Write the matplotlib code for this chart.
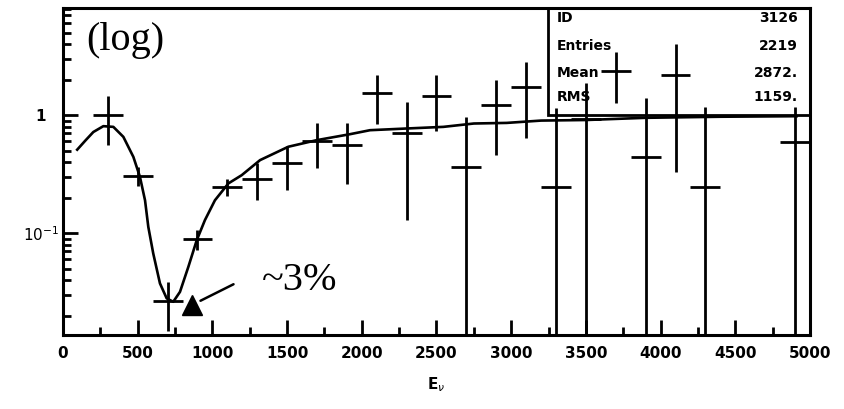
import matplotlib
matplotlib.use("Agg")
import matplotlib.pyplot as plt
from matplotlib.ticker import FixedLocator, FixedFormatter, LogLocator, NullFormatter, MultipleLocator
from matplotlib.patches import Rectangle

# ---- data ----
bin_centers = [300, 500, 700, 900, 1100, 1300, 1500, 1700, 1900, 2100, 2300,
               2500, 2700, 2900, 3100, 3300, 3500, 3700, 3900, 4100, 4300, 4900]
bin_values = [1.0, 0.306, 0.0267, 0.089, 0.247, 0.29, 0.39, 0.61, 0.56, 1.53, 0.71,
              1.45, 0.365, 1.22, 1.74, 0.244, 0.92, 2.36, 0.438, 2.18, 0.245, 0.594]
bin_errors = [0.44, 0.055, 0.012, 0.017, 0.04, 0.1, 0.16, 0.25, 0.3, 0.68, 0.58,
              0.72, 0.6, 0.76, 1.1, 0.9, 0.95, 1.1, 0.95, 1.85, 0.93, 0.59]
half_bin = 100

fit_x = [95, 150, 203, 270, 337, 404, 471, 515, 549, 571, 604, 649, 694, 738, 783,
         839, 895, 950, 1017, 1107, 1196, 1319, 1508, 1698, 1921, 2055, 2300, 2546,
         2750, 2970, 3200, 3500, 3900, 4400, 4910]
fit_y = [0.51, 0.61, 0.72, 0.807, 0.796, 0.655, 0.443, 0.30, 0.19, 0.113, 0.0673,
         0.0375, 0.028, 0.0262, 0.0318, 0.0518, 0.087, 0.129, 0.19, 0.264, 0.31,
         0.416, 0.54, 0.614, 0.69, 0.746, 0.771, 0.796, 0.85, 0.86, 0.9, 0.91,
         0.95, 0.97, 0.98]

x_ticks = [0, 500, 1000, 1500, 2000, 2500, 3000, 3500, 4000, 4500, 5000]
x_ticklabels = ["0", "500", "1000", "1500", "2000", "2500", "3000", "3500", "4000", "4500", "5000"]
y_ticks = [0.1, 1]
y_ticklabels = [r"$10^{-1}$", "1"]

stat_names = ["ID", "Entries", "Mean", "RMS"]
stat_values = ["3126", "2219", "2872.", "1159."]

W, H = 845, 409
fig = plt.figure(figsize=(W / 100, H / 100), dpi=100)
ax = fig.add_axes([63 / W, (H - 335) / H, (810 - 63) / W, (335 - 8) / H])

ax.set_yscale("log")
ax.set_xlim(0, 5000)
ax.set_ylim(0.0137, 8.1)

# fit curve
ax.plot(fit_x, fit_y, color="black", lw=1.9, solid_joinstyle="round", zorder=3)

# data crosses
ax.errorbar(bin_centers, bin_values, xerr=half_bin, yerr=bin_errors,
            fmt="none", ecolor="black", elinewidth=2.0, capsize=0, zorder=4)

# axes style
for s in ax.spines.values():
    s.set_linewidth(2.2)

ax.xaxis.set_major_locator(FixedLocator(x_ticks))
ax.xaxis.set_major_formatter(FixedFormatter(x_ticklabels))
ax.xaxis.set_minor_locator(MultipleLocator(250))
ax.yaxis.set_major_locator(FixedLocator(y_ticks))
ax.yaxis.set_major_formatter(FixedFormatter(y_ticklabels))
ax.yaxis.set_minor_locator(LogLocator(base=10, subs=range(2, 10), numticks=20))
ax.yaxis.set_minor_formatter(NullFormatter())

ax.tick_params(axis="both", which="major", direction="in", length=11, width=2.0)
ax.tick_params(axis="both", which="minor", direction="in", length=6, width=2.0)
ax.tick_params(axis="x", which="major", pad=8)
ax.tick_params(axis="y", which="major", pad=16)
for lab in ax.get_xticklabels():
    lab.set_fontsize(11)
    lab.set_fontweight("bold")
for lab in ax.get_yticklabels():
    lab.set_fontsize(11)
    lab.set_fontweight("bold")
    lab.set_horizontalalignment("center")

ax.set_xlabel(r"E$_{\nu}$", fontsize=11, fontweight="bold", labelpad=10)

# statistics box
bx0 = (548 - 63) / (810 - 63)
by0 = (335 - 115) / (335 - 8)
ax.add_patch(Rectangle((bx0, by0), 1 - bx0, 1 - by0, transform=ax.transAxes,
                       fill=False, edgecolor="black", lw=2.0, zorder=5))
row_y = [18, 46, 73, 97]
for name, val, yp in zip(stat_names, stat_values, row_y):
    ya = (335 - yp) / (335 - 8)
    ax.text((557 - 63) / (810 - 63), ya, name, transform=ax.transAxes,
            ha="left", va="center", fontsize=10, fontweight="bold", zorder=6)
    ax.text((798 - 63) / (810 - 63), ya, val, transform=ax.transAxes,
            ha="right", va="center", fontsize=10, fontweight="bold", zorder=6)

# annotations
ax.text((86 - 63) / (810 - 63), (335 - 40) / (335 - 8), "(log)", transform=ax.transAxes,
        ha="left", va="center", fontsize=29, family="Liberation Serif")
ax.text((262 - 63) / (810 - 63), (335 - 280) / (335 - 8), "~3%", transform=ax.transAxes,
        ha="left", va="center", fontsize=29, family="Liberation Serif")
ax.annotate("", xy=((198 - 63) / (810 - 63), (335 - 302) / (335 - 8)),
            xytext=((236 - 63) / (810 - 63), (335 - 283) / (335 - 8)),
            xycoords="axes fraction", textcoords="axes fraction",
            arrowprops=dict(arrowstyle="-", lw=1.8, color="black"))
ax.plot([(192 - 63) / (810 - 63)], [(335 - 305) / (335 - 8)], marker="^", markersize=15,
        color="black", transform=ax.transAxes, clip_on=False, zorder=6)

fig.savefig("out.png", dpi=100)
